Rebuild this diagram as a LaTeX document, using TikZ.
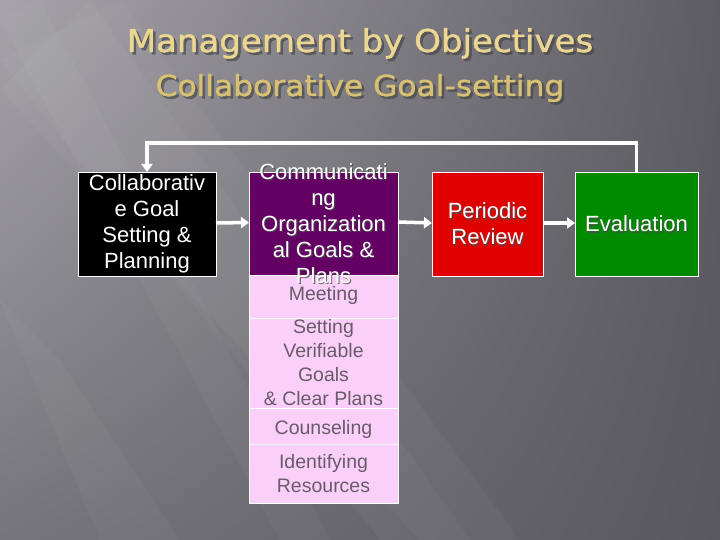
\documentclass[tikz,border=0pt]{standalone}
\usepackage{fontspec}
\setmainfont{Liberation Sans}
\newfontfamily\titlefont[FakeBold=1.2,FakeStretch=1.08]{DejaVu Sans}
\usetikzlibrary{arrows.meta,shadings}
\definecolor{bgA}{HTML}{A6A4AA}
\definecolor{bgB}{HTML}{5E5C63}
\definecolor{bgC}{HTML}{76757B}
\definecolor{bgD}{HTML}{59585E}
\definecolor{titleA}{HTML}{EBD692}
\definecolor{titleB}{HTML}{D8C072}
\definecolor{purp}{HTML}{640064}
\definecolor{pink}{HTML}{FAD0FA}
\definecolor{pinktext}{HTML}{6A5A6A}
\definecolor{redbox}{HTML}{E00000}
\definecolor{greenbox}{HTML}{008A00}
\tikzset{
  box/.style={draw=white, line width=0.8pt, minimum width=#1, inner sep=0pt, outer sep=0pt},
  boxtext/.style={text=white, align=center, font=\fontsize{22}{26}\selectfont, inner sep=0pt},
  shadowtext/.style={text=black!70, align=center, font=\fontsize{22}{26}\selectfont, inner sep=0pt, opacity=0.8},
  pinktxt/.style={text=pinktext, align=center, font=\fontsize{19.5}{24}\selectfont, inner sep=0pt},
  flow/.style={draw=white, line width=3.5pt, -{Triangle[length=8pt,width=11pt]}},
  ttl/.style={inner sep=0pt, anchor=base}
}
\begin{document}
\begin{tikzpicture}[x=1pt,y=-1pt]
\useasboundingbox (0,0) rectangle (720,540);
% background
\shade[upper left=bgA, upper right=bgB, lower left=bgC, lower right=bgD] (0,0) rectangle (720,540);
\fill[white, opacity=0.035] (0,60) -- (120,0) -- (520,540) -- (380,540) -- cycle;
\fill[white, opacity=0.03] (0,90) -- (90,0) -- (470,540) -- (420,540) -- cycle;
\fill[white, opacity=0.03] (0,300) -- (60,360) -- (180,540) -- (100,540) -- cycle;
\fill[white, opacity=0.03] (0,20) -- (40,0) -- (330,540) -- (280,540) -- cycle;
% titles
\node[ttl, text=black!75, opacity=0.6, font=\titlefont\fontsize{31.5}{34}\selectfont] (t1s) at (362.5,54.5) {Management by Objectives};
\node[ttl, text=titleA, font=\titlefont\fontsize{31.5}{34}\selectfont] (t1) at (360,52) {Management by Objectives};
\node[ttl, text=black!75, opacity=0.6, font=\titlefont\fontsize{29}{34}\selectfont] (t2s) at (362.5,98.5) {Collaborative Goal-setting};
\node[ttl, text=titleB, font=\titlefont\fontsize{29}{34}\selectfont] (t2) at (360,96) {Collaborative Goal-setting};
% boxes
\node[box=138pt, minimum height=104pt, fill=black] (left) at (147,224) {};
\node[box=149pt, minimum height=103pt, fill=purp] (comm) at (323.5,223.5) {};
\node[box=149pt, minimum height=43pt, fill=pink] (meet) at (323.5,296.5) {};
\node[box=149pt, minimum height=90pt, fill=pink] (verif) at (323.5,363) {};
\node[box=149pt, minimum height=36pt, fill=pink] (couns) at (323.5,426) {};
\node[box=149pt, minimum height=59pt, fill=pink] (ident) at (323.5,473.5) {};
\node[box=111pt, minimum height=104pt, fill=redbox] (review) at (487.5,224) {};
\node[box=123pt, minimum height=104pt, fill=greenbox] (eval) at (636.5,224) {};
% texts
\node[boxtext] (lefttext) at (left.center) {Collaborativ\\e Goal\\Setting \&\\Planning};
\node[shadowtext] (commshadow) at ([shift={(1.2,1.2)}]comm.center) {Communicati\\ng\\Organization\\al Goals \&\\Plans};
\node[boxtext] (commtext) at (comm.center) {Communicati\\ng\\Organization\\al Goals \&\\Plans};
\node[pinktxt] (meettext) at ([yshift=1]meet.center) {Meeting};
\node[pinktxt] (veriftext) at (verif.center) {Setting\\Verifiable\\Goals\\\& Clear Plans};
\node[pinktxt] (counstext) at ([yshift=-3]couns.center) {Counseling};
\node[pinktxt] (identtext) at (ident.center) {Identifying\\Resources};
\node[shadowtext] (reviewshadow) at ([shift={(1.2,1.2)}]review.center) {Periodic\\Review};
\node[boxtext] (reviewtext) at (review.center) {Periodic\\Review};
\node[shadowtext] (evalshadow) at ([shift={(1.2,1.2)}]eval.center) {Evaluation};
\node[boxtext] (evaltext) at (eval.center) {Evaluation};
% connectors
\draw[flow] ([yshift=1]left.east) -- ([yshift=1]comm.west);
\draw[flow] ([yshift=1.5]comm.east) -- ([yshift=1]review.west);
\draw[flow] ([yshift=1]review.east) -- ([yshift=1]eval.west);
\draw[flow] (eval.north) -- ++(0,-29) -| (left.north);
\end{tikzpicture}
\end{document}
